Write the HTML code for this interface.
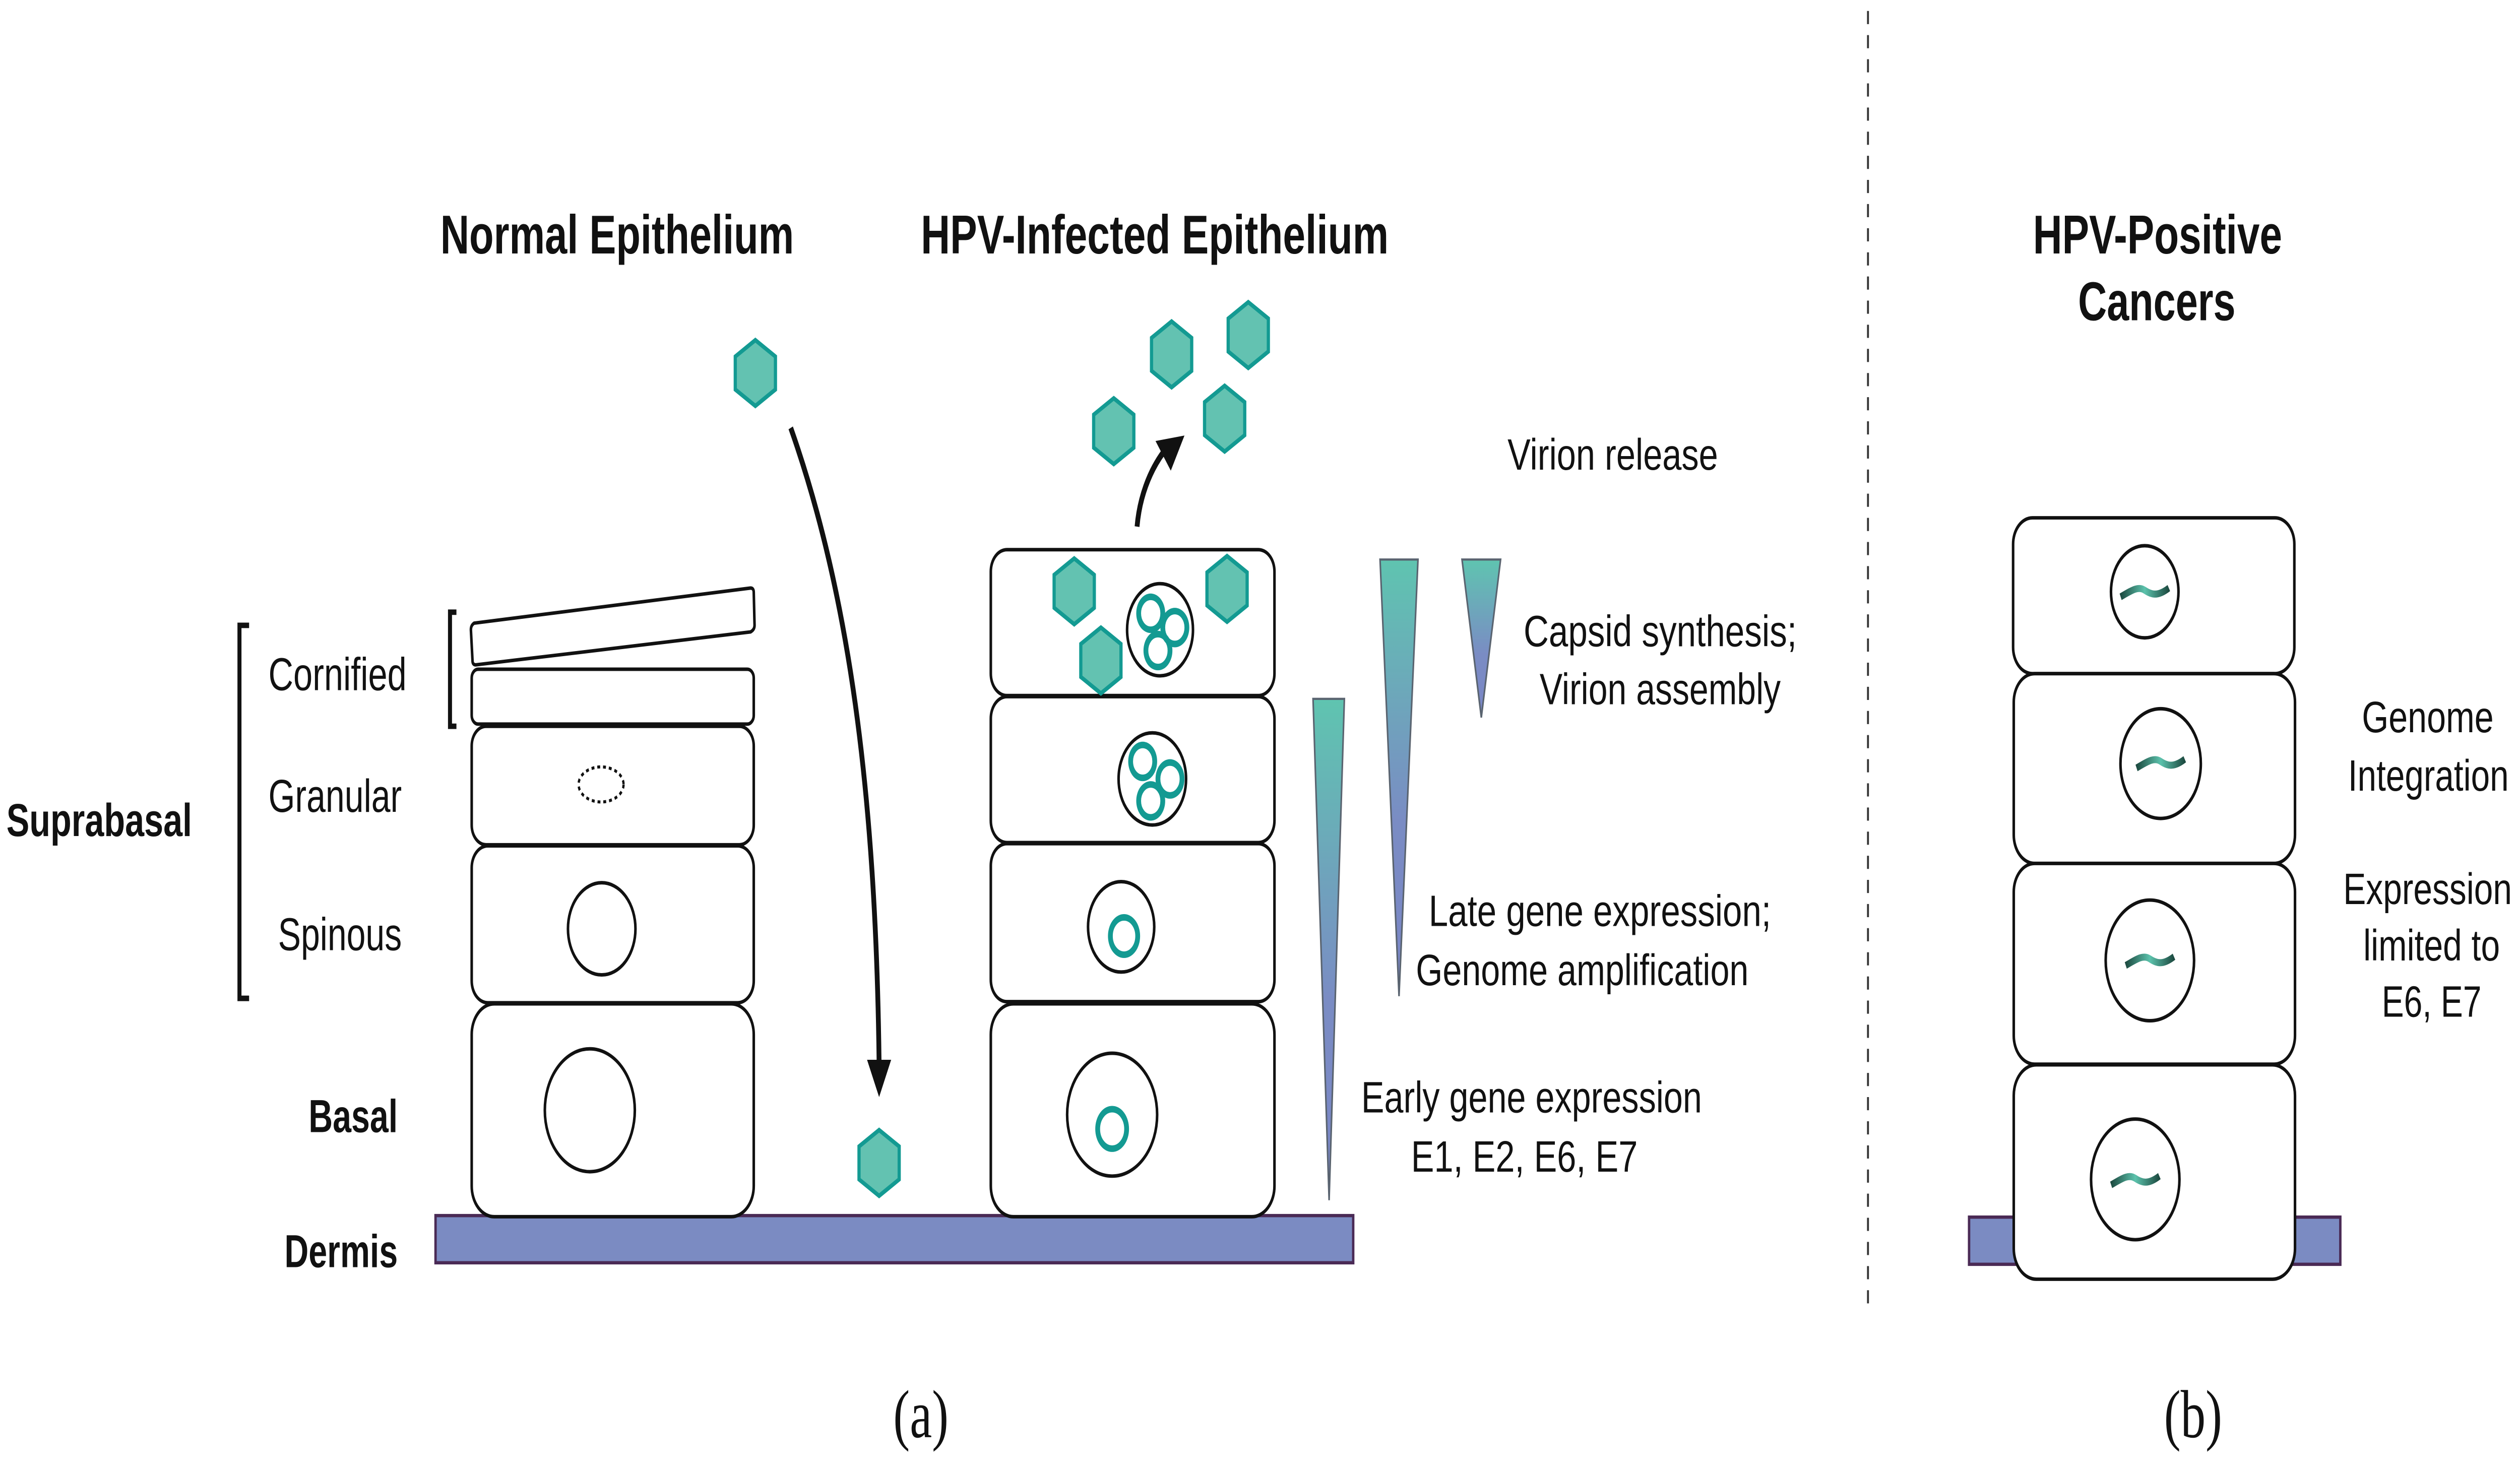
<!DOCTYPE html>
<html><head><meta charset="utf-8"><style>
html,body{margin:0;padding:0;background:#fff;width:100%;height:100%;overflow:hidden;}
svg{display:block;width:100vw;height:100vh;}
text{font-family:"Liberation Sans",Arial,sans-serif;fill:#111;}
</style></head><body>
<svg viewBox="0 0 1568 670.4" preserveAspectRatio="none" xmlns="http://www.w3.org/2000/svg">
<defs>
<linearGradient id="wg" x1="0" y1="0" x2="0" y2="1">
<stop offset="0" stop-color="#5fc4b0"/><stop offset="0.6" stop-color="#7a8cc4"/><stop offset="1" stop-color="#7a86c6"/>
</linearGradient>
<linearGradient id="dna" x1="0" y1="0" x2="1" y2="0">
<stop offset="0" stop-color="#1c4a40"/><stop offset="0.5" stop-color="#5cc2ac"/><stop offset="1" stop-color="#1c4a40"/>
</linearGradient>
<g id="hex"><polygon points="0,-15 12.5,-7.5 12.5,7.5 0,15 -12.5,7.5 -12.5,-7.5" fill="#63c2b1" stroke="#139a92" stroke-width="2"/></g>
<g id="wave"><path d="M-15,3 C-8,0 -4,-2 0,0 C4,2 8,3 15,-1" fill="none" stroke="url(#dna)" stroke-width="3.2"/></g>
</defs>

<text x="274" y="115.5" font-size="25" font-weight="bold" textLength="220" lengthAdjust="spacingAndGlyphs">Normal Epithelium</text>
<text x="573" y="115.5" font-size="25" font-weight="bold" textLength="291" lengthAdjust="spacingAndGlyphs">HPV-Infected Epithelium</text>
<text x="1265" y="115.5" font-size="25" font-weight="bold" textLength="155" lengthAdjust="spacingAndGlyphs">HPV-Positive</text>
<text x="1293" y="146" font-size="25" font-weight="bold" textLength="98" lengthAdjust="spacingAndGlyphs">Cancers</text>

<line x1="1162.3" y1="5" x2="1162.3" y2="597" stroke="#333" stroke-width="1.2" stroke-dasharray="6,5"/>

<text x="4" y="381" font-size="21" font-weight="bold" textLength="115.5" lengthAdjust="spacingAndGlyphs">Suprabasal</text>
<path d="M155,285 H149 V455 H155" fill="none" stroke="#111" stroke-width="2.5"/>
<text x="167" y="314.5" font-size="21" textLength="86" lengthAdjust="spacingAndGlyphs">Cornified</text>
<text x="167" y="370" font-size="21" textLength="83" lengthAdjust="spacingAndGlyphs">Granular</text>
<text x="173" y="433" font-size="21" textLength="77" lengthAdjust="spacingAndGlyphs">Spinous</text>
<text x="192" y="516" font-size="21" font-weight="bold" textLength="55.5" lengthAdjust="spacingAndGlyphs">Basal</text>
<text x="177" y="577.5" font-size="21" font-weight="bold" textLength="70.5" lengthAdjust="spacingAndGlyphs">Dermis</text>
<path d="M284,279 H280 V331 H284" fill="none" stroke="#111" stroke-width="2.5"/>

<rect x="271" y="554" width="571" height="21.5" fill="#7b8bc2" stroke="#4a2a55" stroke-width="1.5"/>
<rect x="1225.2" y="554.7" width="231" height="21.5" fill="#7b8bc2" stroke="#4a2a55" stroke-width="1.5"/>

<g fill="#fff" stroke="#111" stroke-width="1.6">
<path d="M295,284 L467,268 Q469,268 469,270 L469.5,285 Q469.5,287 467,288 L296,303 Q294,303 294,301 L293,287 Q293,285 295,284 Z"/>
<rect x="293.5" y="305" width="175.5" height="25" rx="4"/>
<rect x="293.5" y="331" width="175.5" height="54" rx="9"/>
<rect x="293.5" y="385.5" width="175.5" height="71.5" rx="10"/>
<rect x="293.5" y="457.5" width="175.5" height="97" rx="14"/>
<ellipse cx="374" cy="357.5" rx="14" ry="8" stroke-dasharray="1.8,1.8" stroke-width="1.4"/>
<circle cx="374.4" cy="423.3" r="21"/>
<circle cx="367" cy="506" r="28"/>
</g>

<path d="M492,195 C528,270 545,360 547,485" fill="none" stroke="#111" stroke-width="3"/>
<polygon points="539.5,483 554.5,483 547,500" fill="#111"/>
<use href="#hex" x="470" y="170"/>
<use href="#hex" x="547" y="530"/>

<g fill="#fff" stroke="#111" stroke-width="1.6">
<rect x="616.5" y="250.5" width="176.5" height="66.5" rx="10"/>
<rect x="616.5" y="317.5" width="176.5" height="66.5" rx="10"/>
<rect x="616.5" y="384.5" width="176.5" height="72" rx="10"/>
<rect x="616.5" y="457.5" width="176.5" height="97" rx="14"/>
<ellipse cx="721.8" cy="287" rx="20.5" ry="21"/>
<circle cx="717" cy="355" r="21"/>
<circle cx="697.6" cy="422.4" r="20.6"/>
<circle cx="692" cy="508" r="28"/>
</g>
<g fill="none" stroke="#139a92" stroke-width="3">
<circle cx="716" cy="279.5" r="7.5"/><circle cx="731" cy="286" r="7.5"/><circle cx="720.5" cy="296.5" r="7.5"/>
<circle cx="711" cy="347" r="7.5"/><circle cx="728" cy="355" r="7.5"/><circle cx="716" cy="365" r="7.5"/>
<circle cx="699.4" cy="426.6" r="8.5"/>
<circle cx="692" cy="514.5" r="9"/>
</g>
<use href="#hex" x="668.4" y="269.5"/>
<use href="#hex" x="763.5" y="268.4"/>
<use href="#hex" x="685" y="301"/>

<path d="M707.5,240 C709,227 715,215 724,206" fill="none" stroke="#111" stroke-width="3"/>
<polygon points="719,201 737,198.5 728.5,214.5" fill="#111"/>
<use href="#hex" x="693" y="196.5"/>
<use href="#hex" x="729" y="161.5"/>
<use href="#hex" x="776.7" y="152.7"/>
<use href="#hex" x="762" y="190.8"/>

<g fill="url(#wg)" stroke="#5a6470" stroke-width="1">
<polygon points="817,318.5 836.5,318.5 827,547"/>
<polygon points="858.7,255 882.3,255 870.5,454"/>
<polygon points="909.7,255 933.7,255 921.7,327"/>
</g>

<g font-size="20">
<text x="938" y="214" textLength="131" lengthAdjust="spacingAndGlyphs">Virion release</text>
<text x="948" y="294.5" textLength="170" lengthAdjust="spacingAndGlyphs">Capsid synthesis;</text>
<text x="958" y="321" textLength="150" lengthAdjust="spacingAndGlyphs">Virion assembly</text>
<text x="889" y="422" textLength="213" lengthAdjust="spacingAndGlyphs">Late gene expression;</text>
<text x="881" y="449" textLength="207" lengthAdjust="spacingAndGlyphs">Genome amplification</text>
<text x="847" y="507" textLength="212" lengthAdjust="spacingAndGlyphs">Early gene expression</text>
<text x="878" y="534" textLength="141" lengthAdjust="spacingAndGlyphs">E1, E2, E6, E7</text>
<text x="1469.6" y="333.7" textLength="82" lengthAdjust="spacingAndGlyphs">Genome</text>
<text x="1461" y="360.4" textLength="100" lengthAdjust="spacingAndGlyphs">Integration</text>
<text x="1458" y="412" textLength="105" lengthAdjust="spacingAndGlyphs">Expression</text>
<text x="1470.5" y="437.7" textLength="85" lengthAdjust="spacingAndGlyphs">limited to</text>
<text x="1482" y="463.3" textLength="62" lengthAdjust="spacingAndGlyphs">E6, E7</text>
</g>

<g fill="#fff" stroke="#111" stroke-width="1.6">
<rect x="1252.6" y="236" width="175" height="71" rx="12"/>
<rect x="1253" y="307" width="175" height="86.5" rx="13"/>
<rect x="1253" y="393.5" width="175" height="91.5" rx="13"/>
<rect x="1253" y="485.3" width="175" height="97.7" rx="14"/>
<circle cx="1334.5" cy="269.7" r="21"/>
<circle cx="1344.4" cy="348" r="25"/>
<circle cx="1337.7" cy="437.7" r="27.5"/>
<circle cx="1328.6" cy="537.5" r="27.5"/>
</g>
<use href="#wave" x="1334.5" y="269"/>
<use href="#wave" x="1344.4" y="347"/>
<use href="#wave" x="1337.7" y="437"/>
<use href="#wave" x="1328.6" y="537"/>

<text x="573" y="655" font-size="31" text-anchor="middle" style="font-family:'Liberation Serif',serif">(a)</text>
<text x="1364.6" y="655" font-size="31" text-anchor="middle" style="font-family:'Liberation Serif',serif">(b)</text>
</svg>
</body></html>
